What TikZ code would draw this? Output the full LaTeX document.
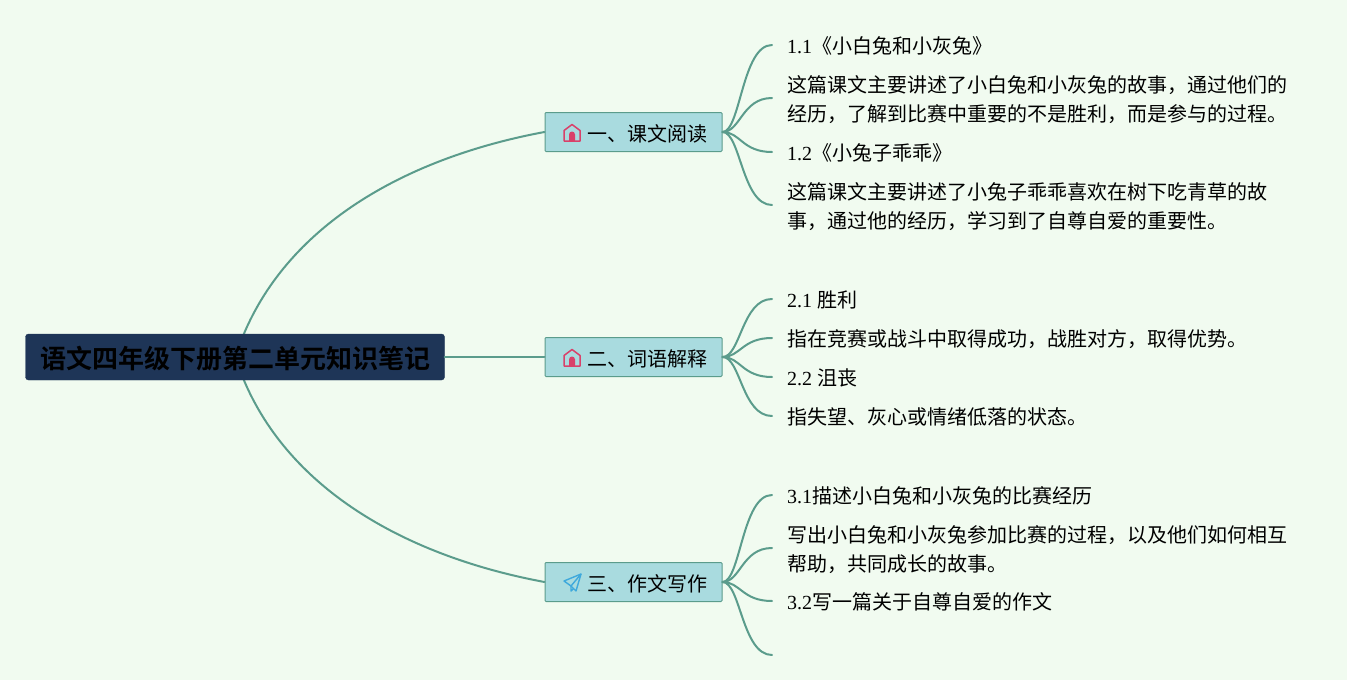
\documentclass[tikz,border=0pt]{standalone}
\usepackage{fontspec}
\setmainfont{Liberation Serif}
\newfontfamily\cjk{Noto Sans CJK SC}
\newfontfamily\cjkb{Noto Sans CJK SC Bold}
\newcommand{\cj}[1]{{\cjk #1}}
\definecolor{bgc}{HTML}{F1FBF0}
\definecolor{linec}{HTML}{5B9C8C}
\definecolor{branchf}{HTML}{A9DBDF}
\definecolor{rootf}{HTML}{1E3557}
\definecolor{housec}{HTML}{D9416A}
\definecolor{planec}{HTML}{3FA9DC}
\tikzset{
  conn/.style={draw=linec,line width=2pt,line cap=round},
  rootbox/.style={draw=rootf,fill=rootf,rounded corners=3pt,minimum width=419pt,minimum height=46pt,inner sep=0pt,text=black,font=\fontsize{26}{30}\selectfont\cjkb},
  branchbox/.style={draw=linec,line width=1pt,fill=branchf,rounded corners=1pt,minimum width=177pt,minimum height=39pt,inner sep=0pt,font=\fontsize{20}{24}\selectfont\cjk},
  branchtext/.style={anchor=west,inner sep=0pt,font=\fontsize{20}{24}\selectfont\cjk},
  leaf/.style={anchor=west,align=left,inner ysep=0pt,inner xsep=0pt,xshift=15pt,font=\fontsize{20}{29.3}\selectfont,text=black},
  hicon/.style={draw=housec,line width=1.5pt,line join=round},
  picon/.style={draw=planec,line width=1.4pt,line join=round},
}
\newcommand{\house}[2]{%
  \draw[hicon] (#1-8,#2+8.5) -- (#1-8,#2-2) -- (#1,#2-8) -- (#1+8,#2-2) -- (#1+8,#2+8.5) -- cycle;
  \fill[housec] (#1-3,#2+8.5) -- (#1-3,#2+2) arc[start angle=180,end angle=0,radius=3pt] -- (#1+3,#2+8.5) -- cycle;
}
\begin{document}
\begin{tikzpicture}[x=1pt,y=-1pt]
\useasboundingbox (0,0) rectangle (1347,680);
\fill[bgc] (0,0) rectangle (1347,680);

\coordinate (t1) at (243,336);
\coordinate (t3) at (243,378);
\node[branchbox] (b1) at (633.5,132) {};
\node[branchbox] (b2) at (633.5,357) {};
\node[branchbox] (b3) at (633.5,582) {};
\draw[conn] (t1) .. controls (290,222) and (410,157) .. (b1.west);
\draw[conn] (t3) .. controls (290,492) and (410,557) .. (b3.west);
\node[rootbox] (root) at (235,357) {};
\node[inner sep=0pt,text=black,font=\fontsize{26}{30}\selectfont\cjkb] (roott) at (235.5,359) {语文四年级下册第二单元知识笔记};
\draw[conn] (root.east) -- (b2.west);

\node[branchtext] (b1t) at (587,134) {一、课文阅读};
\node[branchtext] (b2t) at (587,359) {二、词语解释};
\node[branchtext] (b3t) at (587,584) {三、作文写作};
\house{572}{132.5}
\house{572}{357.5}
\draw[picon] (564,581) -- (581,574) -- (576,591) -- (571,586) -- cycle;
\draw[picon] (581,574) -- (571,586) -- (571,591) -- (573.5,588.5);

\node[leaf] (a1) at (772,46) {1.1\cj{《小白兔和小灰兔》}};
\node[leaf] (a2) at (772,99.5) {\cj{这篇课文主要讲述了小白兔和小灰兔的故事，通过他们的}\\\cj{经历，了解到比赛中重要的不是胜利，而是参与的过程。}};
\node[leaf] (a3) at (772,153) {1.2\cj{《小兔子乖乖》}};
\node[leaf] (a4) at (772,206.5) {\cj{这篇课文主要讲述了小兔子乖乖喜欢在树下吃青草的故}\\\cj{事，通过他的经历，学习到了自尊自爱的重要性。}};
\node[leaf] (c1) at (772,300) {2.1 \cj{胜利}};
\node[leaf] (c2) at (772,339) {\cj{指在竞赛或战斗中取得成功，战胜对方，取得优势。}};
\node[leaf] (c3) at (772,378) {2.2 \cj{沮丧}};
\node[leaf] (c4) at (772,417) {\cj{指失望、灰心或情绪低落的状态。}};
\node[leaf] (d1) at (772,496) {3.1\cj{描述小白兔和小灰兔的比赛经历}};
\node[leaf] (d2) at (772,549.5) {\cj{写出小白兔和小灰兔参加比赛的过程，以及他们如何相互}\\\cj{帮助，共同成长的故事。}};
\node[leaf] (d3) at (772,602) {3.2\cj{写一篇关于自尊自爱的作文}};
\coordinate (d4) at (772,655);

\foreach \b/\y in {b1/45,b1/98,b1/152,b1/205,b2/299,b2/338,b2/377,b2/416,b3/495,b3/548,b3/601,b3/655}{
  \draw[conn] (\b.east) .. controls +(18,0) and (742,\y) .. (772,\y);
}
\end{tikzpicture}
\end{document}
